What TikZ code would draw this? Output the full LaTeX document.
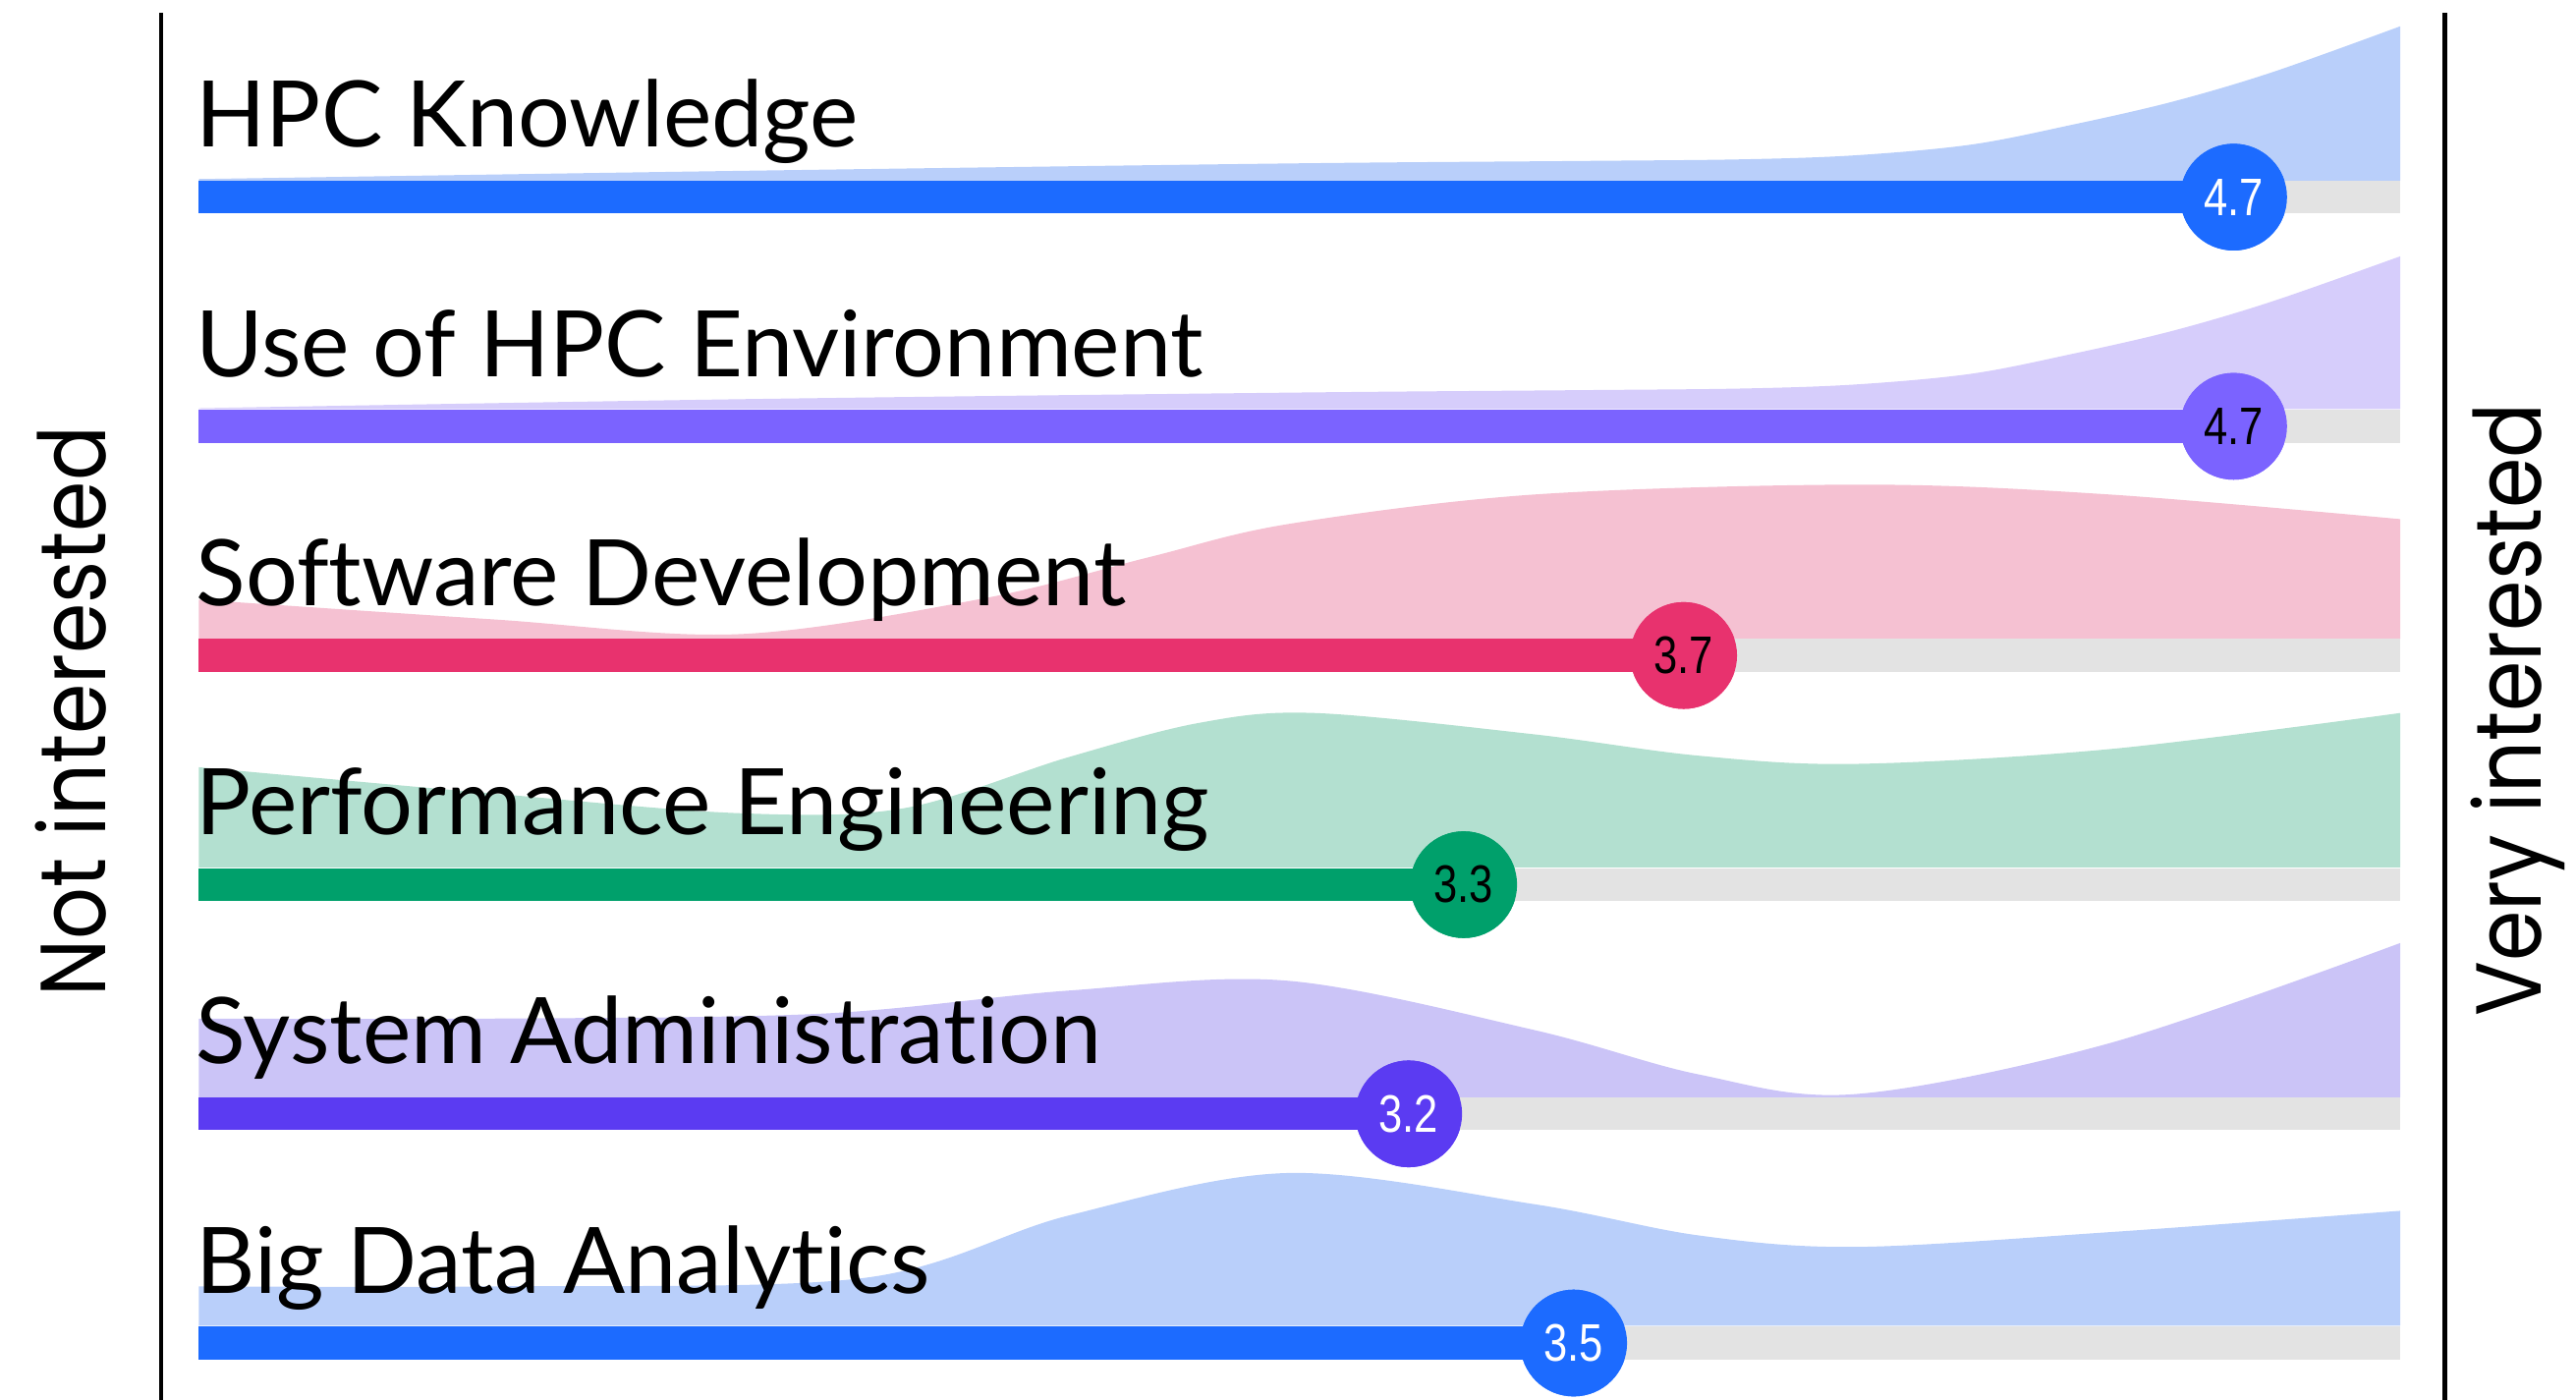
\documentclass[tikz,border=0pt]{standalone}
\usepackage{fontspec}
\setmainfont{Lato}[RawFeature={-liga;-clig;-calt;-dlig}]
\newfontfamily\axisfont{Poppins}[FakeStretch=0.88]
\newfontfamily\valfont{Liberation Sans}[FakeStretch=0.81]
\usetikzlibrary{positioning}
\definecolor{hpcblue}{HTML}{1C6BFF}
\definecolor{hpclight}{HTML}{B9CFFA}
\definecolor{envpurple}{HTML}{7B63FF}
\definecolor{envlight}{HTML}{D6CDFB}
\definecolor{devpink}{HTML}{E8326E}
\definecolor{devlight}{HTML}{F5C1D2}
\definecolor{perfgreen}{HTML}{00A06B}
\definecolor{perflight}{HTML}{B3E0D0}
\definecolor{sysviolet}{HTML}{5B3BF2}
\definecolor{syslight}{HTML}{CBC4F7}
\definecolor{trackgray}{HTML}{E3E3E3}
\tikzset{
  bar/.style={line width=0.4cm},
  topic/.style={anchor=base west, inner sep=0pt, font=\fontsize{31.8}{36}\selectfont},
  score/.style={circle, minimum size=1.3cm, inner sep=0pt, font=\valfont\fontsize{18.3}{19}\selectfont},
  axislabel/.style={rotate=90, anchor=base, inner sep=0pt, font=\axisfont\fontsize{32}{36}\selectfont},
}
\begin{document}
\begin{tikzpicture}[x=0.02cm, y=-0.02cm]
  \useasboundingbox (0,0) rectangle (1568,851.6);
  %% the answer densities, drawn first so the labels sit on top of them
  \fill[hpclight] (121,110) -- plot[smooth, tension=0.55] coordinates {(121,109) (450,104) (784,99.5) (960,98) (1060,97) (1130,94.5) (1200,88) (1261,76) (1322,62) (1383,44) (1461,16)} -- (1461,110) -- cycle;
  \fill[envlight] (121,249) -- plot[smooth, tension=0.55] coordinates {(121,248.5) (450,243) (784,239) (960,237.5) (1060,236.5) (1130,234) (1200,227.5) (1261,215.5) (1322,201.5) (1383,183.5) (1461,156)} -- (1461,249) -- cycle;
  \fill[devlight] (121,389) -- plot[smooth, tension=0.55] coordinates {(121,365) (300,377) (450,386) (600,364) (700,339) (784,319) (934,301) (1134,295) (1284,301) (1461,316)} -- (1461,389) -- cycle;
  \fill[perflight] (121,528) -- plot[smooth, tension=0.55] coordinates {(121,467) (300,483) (450,495) (550,492) (650,461) (730,440) (800,434) (934,447) (1034,460) (1129,465) (1284,456) (1461,434)} -- (1461,528) -- cycle;
  \fill[syslight] (121,668) -- plot[smooth, tension=0.55] coordinates {(121,620) (300,620) (500,617) (650,603) (784,597) (934,627) (1034,654) (1129,666) (1284,635) (1461,574)} -- (1461,668) -- cycle;
  \fill[hpclight] (121,807) -- plot[smooth, tension=0.55] coordinates {(121,783) (300,783) (525,778) (650,740) (784,714) (934,733) (1034,752) (1129,759) (1284,750) (1461,737)} -- (1461,807) -- cycle;

  %% topic names
  \foreach \r/\name in {0/HPC Knowledge, 1/Use of HPC Environment, 2/Software Development, 3/Performance Engineering, 4/System Administration, 5/Big Data Analytics}
    \node[topic] (t\r) at (119,{89.6+139.5*\r}) {\name};

  %% bars, grey rest of the scale and the mean score
  \foreach \r/\v/\col/\txt in {0/4.7/hpcblue/white, 1/4.7/envpurple/black, 2/3.7/devpink/black, 3/3.3/perfgreen/black, 4/3.2/sysviolet/white, 5/3.5/hpcblue/white} {
    \coordinate (b\r) at (121,{120+139.5*\r});
    \coordinate (e\r) at (1461,{120+139.5*\r});
    \node[score, fill=\col, text=\txt] (v\r) at ({121+(\v-1)*334.75},{120+139.5*\r}) {};
    \draw[bar, trackgray] (v\r.center) -- (e\r);
    \draw[bar, \col] (b\r) -- (v\r.center);
    \node[score, fill=\col, text=\txt] at (v\r) {\v};
  }

  %% the two ends of the scale
  \coordinate (ltop) at (98,8);
  \coordinate (lbot) at (98,852);
  \coordinate (rtop) at (1488,8);
  \coordinate (rbot) at (1488,852);
  \draw[line width=1.6pt] (ltop) -- (lbot);
  \draw[line width=1.6pt] (rtop) -- (rbot);
  \node[axislabel] (notint) at (64,433) {Not interested};
  \node[axislabel] (veryint) at (1547,432) {Very interested};
\end{tikzpicture}
\end{document}
